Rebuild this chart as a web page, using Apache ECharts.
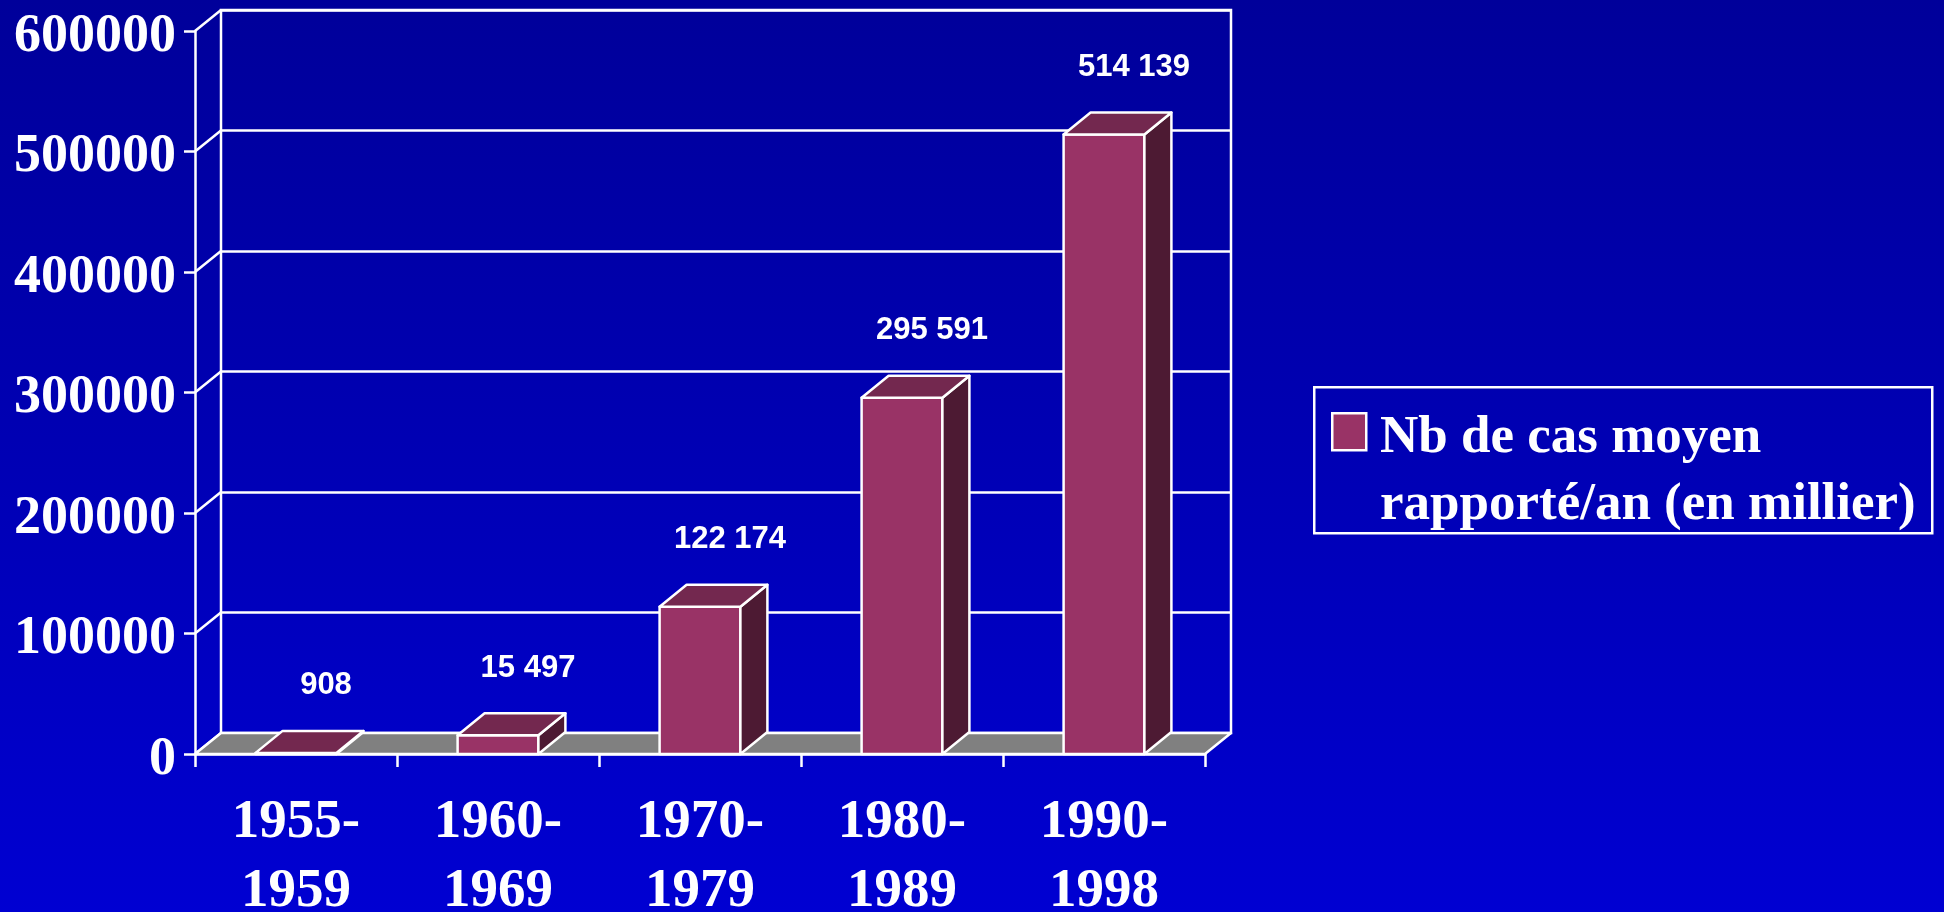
<!DOCTYPE html>
<html>
<head>
<meta charset="utf-8">
<script src="https://cdn.jsdelivr.net/npm/echarts@6/dist/echarts.min.js"></script>
<style>
html,body{margin:0;padding:0;width:1944px;height:912px;overflow:hidden;}
#c{width:1944px;height:912px;background:linear-gradient(to bottom,#00009a 0%,#0000b4 50%,#0000d2 100%);}
</style>
</head>
<body>
<div id="c"></div>
<script>
// ---- data ----
const categories = ['1955-1959', '1960-1969', '1970-1979', '1980-1989', '1990-1998'];
const cases = [908, 15497, 122174, 295591, 514139];
const valueLabels = ['908', '15 497', '122 174', '295 591', '514 139'];
const yTicks = [0, 100000, 200000, 300000, 400000, 500000, 600000];
const seriesName = 'Nb de cas moyen rapporté/an (en millier)';
const legendLines = ['Nb de cas moyen', 'rapporté/an (en millier)'];

// ---- styles ----
const WHITE = '#ffffff';
const FRONT = '#993366';
const TOP = '#73284f';
const SIDE = '#4d1a33';
const FLOOR = '#808080';
const LW = 2.5;
const WALL_DX = 26, WALL_DY = 21;
const BAR_DX = 27, BAR_DY = 22;
const SERIF = '"Liberation Serif", "Times New Roman", serif';
const SANS = '"Liberation Sans", Arial, sans-serif';

const chart = echarts.init(document.getElementById('c'), null, {renderer: 'canvas'});

const yMin = yTicks[0], yMax = yTicks[yTicks.length - 1], yStep = yTicks[1] - yTicks[0];

const option = {
  backgroundColor: 'transparent',
  animation: false,
  grid: [
    {left: 195, top: 31, width: 1010, height: 723, containLabel: false, outerBoundsMode: 'none'},
    {left: 221, top: 10, width: 1010, height: 723, containLabel: false, outerBoundsMode: 'none',
     show: true, borderColor: WHITE, borderWidth: LW, backgroundColor: 'transparent'}
  ],
  xAxis: [
    {
      type: 'category', gridIndex: 0, data: categories, boundaryGap: true,
      axisLine: {show: true, lineStyle: {color: WHITE, width: LW}},
      axisTick: {show: true, length: 13, lineStyle: {color: WHITE, width: LW}},
      axisLabel: {
        show: true, color: WHITE, fontFamily: SERIF, fontWeight: 'bold', fontSize: 55,
        lineHeight: 69, margin: 34, interval: 0,
        formatter: v => v.replace('-', '-\n')
      },
      splitLine: {show: false}
    },
    {
      type: 'category', gridIndex: 1, data: categories, show: false
    }
  ],
  yAxis: [
    {
      type: 'value', gridIndex: 0, min: yMin, max: yMax, interval: yStep,
      axisLine: {show: true, lineStyle: {color: WHITE, width: LW}},
      axisTick: {show: true, length: 11, lineStyle: {color: WHITE, width: LW}},
      axisLabel: {
        show: true, color: WHITE, fontFamily: SERIF, fontWeight: 'bold', fontSize: 54,
        margin: 19, verticalAlign: 'top', lineHeight: 12,
        formatter: v => String(v)
      },
      splitLine: {show: false}
    },
    {
      type: 'value', gridIndex: 1, min: yMin, max: yMax, interval: yStep,
      axisLine: {show: false}, axisTick: {show: false}, axisLabel: {show: false},
      splitLine: {show: true, lineStyle: {color: WHITE, width: LW}}
    }
  ],
  series: [
    // left side wall diagonals
    {
      type: 'custom', xAxisIndex: 0, yAxisIndex: 0, z: 1, silent: true,
      data: yTicks.map(v => [0, v]),
      encode: {x: 0, y: 1},
      renderItem: function (params, api) {
        const cs = params.coordSys;
        const y = api.coord([0, api.value(1)])[1];
        return {
          type: 'line',
          shape: {x1: cs.x, y1: y, x2: cs.x + WALL_DX, y2: y - WALL_DY},
          style: {stroke: WHITE, lineWidth: LW}
        };
      }
    },
    // floor
    {
      type: 'custom', xAxisIndex: 0, yAxisIndex: 0, z: 2, silent: true,
      data: [[0, yMin]],
      encode: {x: 0, y: 1},
      renderItem: function (params, api) {
        const cs = params.coordSys;
        const y = api.coord([0, yMin])[1];
        const x0 = cs.x, x1 = cs.x + cs.width;
        return {
          type: 'polygon',
          shape: {points: [[x0, y], [x1, y], [x1 + WALL_DX, y - WALL_DY], [x0 + WALL_DX, y - WALL_DY]]},
          style: {fill: FLOOR, stroke: WHITE, lineWidth: LW, lineJoin: 'round'}
        };
      }
    },
    // 3D bars with value labels
    {
      type: 'custom', name: seriesName, xAxisIndex: 0, yAxisIndex: 0, z: 3,
      data: cases.map((v, i) => [i, v]),
      encode: {x: 0, y: 1},
      renderItem: function (params, api) {
        const i = api.value(0), v = api.value(1);
        const top = api.coord([i, v]);
        const base = api.coord([i, yMin]);
        const w = api.size([1, 0])[0] * 0.4;
        const x0 = top[0] - w / 2, x1 = top[0] + w / 2;
        const yt = top[1], yb = base[1];
        const st = (fill) => ({fill: fill, stroke: WHITE, lineWidth: LW, lineJoin: 'round'});
        return {
          type: 'group',
          children: [
            {type: 'polygon', shape: {points: [[x0, yb], [x1, yb], [x1, yt], [x0, yt]]}, style: st(FRONT)},
            {type: 'polygon', shape: {points: [[x1, yb], [x1 + BAR_DX, yb - BAR_DY], [x1 + BAR_DX, yt - BAR_DY], [x1, yt]]}, style: st(SIDE)},
            {type: 'polygon', shape: {points: [[x0, yt], [x1, yt], [x1 + BAR_DX, yt - BAR_DY], [x0 + BAR_DX, yt - BAR_DY]]}, style: st(TOP)},
            {type: 'text', x: top[0] + 30, y: yt - 67,
             style: {text: valueLabels[params.dataIndex], fill: WHITE, fontFamily: SANS,
                     fontWeight: 'bold', fontSize: 31, align: 'center', verticalAlign: 'middle'}}
          ]
        };
      }
    }
  ],
  graphic: [
    {type: 'rect', left: 1313, top: 386, shape: {width: 618, height: 146},
     style: {fill: 'transparent', stroke: WHITE, lineWidth: LW}, z: 10},
    {type: 'rect', left: 1331, top: 412, shape: {width: 34, height: 37},
     style: {fill: FRONT, stroke: WHITE, lineWidth: LW}, z: 10},
    {type: 'text', x: 1380, y: 438, z: 10,
     style: {text: legendLines[0], fill: WHITE, fontFamily: SERIF, fontWeight: 'bold', fontSize: 53,
             align: 'left', verticalAlign: 'middle'}},
    {type: 'text', x: 1380, y: 505, z: 10,
     style: {text: legendLines[1], fill: WHITE, fontFamily: SERIF, fontWeight: 'bold', fontSize: 53,
             align: 'left', verticalAlign: 'middle'}}
  ]
};
chart.setOption(option);
</script>
</body>
</html>
